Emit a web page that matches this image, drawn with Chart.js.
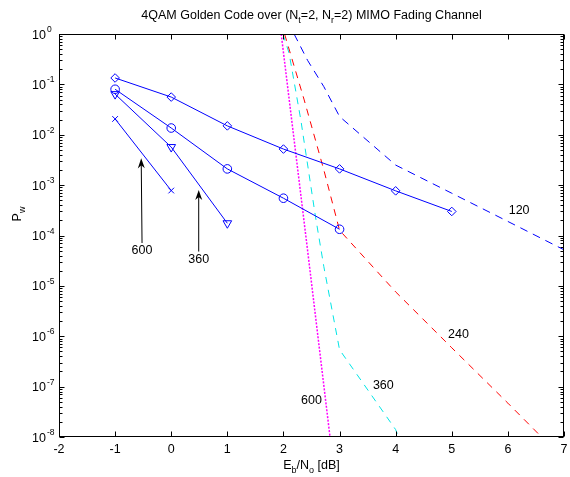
<!DOCTYPE html>
<html>
<head>
<meta charset="utf-8">
<script src="https://cdn.jsdelivr.net/npm/chart.js@4"></script>
<style>
    html, body { margin: 0; padding: 0; background: #fff; }
    #wrap { width: 570px; height: 477px; position: relative; }
</style>
</head>
<body>
<div id="wrap"><canvas id="myChart"></canvas></div>
<script>
(function () {
    "use strict";

    // simulated word error rate (solid blue, markers) per frame length
    const snr120 = [-1, 0, 1, 2, 3, 4, 5];
    const pw120 = [0.134, 0.056, 0.015, 0.0052, 0.0021, 7.7e-4, 3.0e-4];
    const snr240 = [-1, 0, 1, 2, 3];
    const pw240 = [0.08, 0.0136, 0.0021, 5.5e-4, 1.33e-4];
    const snr360 = [-1, 0, 1];
    const pw360 = [0.064, 0.0057, 1.75e-4];
    const snr600 = [-1, 0];
    const pw600 = [0.0206, 7.8e-4];

    // bounds (dashed / dotted curves)
    const bound120X = [2.19, 2.43, 2.72, 3.0, 4.0, 5.0, 6.0, 7.0];
    const bound120Y = [1.0, 0.30, 0.09, 0.023, 0.0025, 6.9e-4, 1.9e-4, 5.2e-5];
    const bound240X = [2.02, 2.37, 2.72, 3.0, 4.0, 5.0, 6.0, 6.6];
    const bound240Y = [1.0, 0.049, 0.002, 1.27e-4, 7.6e-6, 5.9e-7, 4.7e-8, 1e-8];
    const bound360X = [1.99, 2.1, 2.31, 2.57, 2.72, 3.0, 4.0, 4.05];
    const bound360Y = [1.0, 0.42, 0.0196, 2.4e-4, 2.4e-5, 5.4e-7, 1.4e-8, 1e-8];
    const bound600X = [1.96, 2.43, 2.83];
    const bound600Y = [1.0, 5.1e-5, 1e-8];

    // axis ticks
    const xTicks = [-2, -1, 0, 1, 2, 3, 4, 5, 6, 7];
    const yDecades = [0, -1, -2, -3, -4, -5, -6, -7, -8];

    // text on the curves, in data coordinates
    const curveLabels = ['120', '240', '360', '600'];
    const curveLabelX = [6.2, 5.12, 3.78, 2.5];
    const curveLabelY = [3.2e-4, 1.07e-6, 1.04e-7, 5.2e-8];

    // arrows pointing at the simulated curves
    const arrowLabels = ['600', '360'];
    const arrowTailX = [-0.52, 0.49];
    const arrowTailY = [7.1e-5, 4.8e-5];
    const arrowHeadX = [-0.535, 0.49];
    const arrowHeadY = [3.4e-3, 8.0e-4];

    const FONT = '"Liberation Sans", Arial, Helvetica, sans-serif';

    function toPoints(xs, ys) {
        return xs.map(function (x, i) { return { x: x, y: ys[i] }; });
    }

    function solid(data, style, radius, rotation) {
        return {
            data: data,
            borderColor: '#0000ff',
            borderWidth: 1,
            pointStyle: style,
            pointRadius: radius,
            pointRotation: rotation || 0,
            pointBorderColor: '#0000ff',
            pointBorderWidth: 1,
            pointBackgroundColor: 'rgba(0,0,0,0)',
            tension: 0,
            fill: false
        };
    }

    function bound(data, color, dash, width) {
        return {
            data: data,
            borderColor: color,
            borderWidth: width,
            borderDash: dash,
            pointRadius: 0,
            tension: 0,
            fill: false
        };
    }

    // text with sub/superscripts: parts = [[text, mode]], mode 0 normal, 1 sub, 2 sup
    function drawRich(ctx, parts, x, y, align, size) {
        const small = Math.round(size * 0.72);
        const widths = parts.map(function (p) {
            ctx.font = (p[1] ? small : size) + 'px ' + FONT;
            return ctx.measureText(p[0]).width;
        });
        const total = widths.reduce(function (s, w) { return s + w; }, 0);
        let cx = align === 'center' ? x - total / 2 : (align === 'right' ? x - total : x);
        ctx.textAlign = 'left';
        ctx.textBaseline = 'alphabetic';
        parts.forEach(function (p, i) {
            ctx.font = (p[1] ? small : size) + 'px ' + FONT;
            const dy = p[1] === 1 ? 4 : (p[1] === 2 ? -6 : 0);
            ctx.fillText(p[0], cx, y + dy);
            cx += widths[i];
        });
    }

    const axesDecor = {
        id: 'axesDecor',
        afterDraw: function (chart) {
            const ctx = chart.ctx;
            const a = chart.chartArea;
            const xs = chart.scales.x;
            const ys = chart.scales.y;
            const L = Math.round(a.left) + 0.5, R = Math.round(a.right) - 0.5;
            const T = Math.round(a.top) + 0.5, B = Math.round(a.bottom) - 0.5;
            ctx.save();
            ctx.fillStyle = '#000';
            ctx.strokeStyle = '#000';
            ctx.lineWidth = 1;
            ctx.strokeRect(L, T, R - L, B - T);

            // x ticks, inside, top and bottom
            ctx.beginPath();
            xTicks.forEach(function (v) {
                const px = Math.round(xs.getPixelForValue(v)) + 0.5;
                ctx.moveTo(px, B); ctx.lineTo(px, B - 5);
                ctx.moveTo(px, T); ctx.lineTo(px, T + 5);
            });
            // y major and minor ticks
            yDecades.forEach(function (d) {
                const py = Math.round(ys.getPixelForValue(Math.pow(10, d))) + 0.5;
                ctx.moveTo(L, py); ctx.lineTo(L + 5, py);
                ctx.moveTo(R, py); ctx.lineTo(R - 5, py);
                if (d < 0) {
                    for (let m = 2; m <= 9; m++) {
                        const pm = Math.round(ys.getPixelForValue(m * Math.pow(10, d))) + 0.5;
                        ctx.moveTo(L, pm); ctx.lineTo(L + 3, pm);
                        ctx.moveTo(R, pm); ctx.lineTo(R - 3, pm);
                    }
                }
            });
            ctx.stroke();

            // tick labels
            ctx.font = '12.5px ' + FONT;
            ctx.textAlign = 'center';
            ctx.textBaseline = 'alphabetic';
            xTicks.forEach(function (v) {
                ctx.fillText(String(v), xs.getPixelForValue(v), 453);
            });
            yDecades.forEach(function (d) {
                const py = ys.getPixelForValue(Math.pow(10, d));
                ctx.font = '12.5px ' + FONT;
                ctx.textAlign = 'right';
                ctx.fillText('10', 46, py + 4.5);
                ctx.font = '8.5px ' + FONT;
                ctx.textAlign = 'left';
                ctx.fillText(String(d), 47, py - 2);
            });

            // title and axis labels
            drawRich(ctx, [['4QAM Golden Code over (N', 0], ['t', 1], ['=2, N', 0], ['r', 1],
                ['=2) MIMO Fading Channel', 0]], (a.left + a.right) / 2, 19, 'center', 12.5);
            drawRich(ctx, [['E', 0], ['b', 1], ['/N', 0], ['o', 1], [' [dB]', 0]],
                (a.left + a.right) / 2, 469, 'center', 12.5);
            ctx.save();
            ctx.translate(21, 214);
            ctx.rotate(-Math.PI / 2);
            drawRich(ctx, [['P', 0], ['w', 1]], 0, 0, 'center', 12.5);
            ctx.restore();

            // curve labels
            ctx.font = '12.5px ' + FONT;
            ctx.textAlign = 'center';
            ctx.textBaseline = 'middle';
            curveLabels.forEach(function (t, i) {
                ctx.fillText(t, xs.getPixelForValue(curveLabelX[i]), ys.getPixelForValue(curveLabelY[i]));
            });

            // arrows with labels under the tail
            arrowLabels.forEach(function (t, i) {
                const x0 = xs.getPixelForValue(arrowTailX[i]), y0 = ys.getPixelForValue(arrowTailY[i]);
                const x1 = xs.getPixelForValue(arrowHeadX[i]), y1 = ys.getPixelForValue(arrowHeadY[i]);
                const len = Math.hypot(x1 - x0, y1 - y0);
                const ux = (x1 - x0) / len, uy = (y1 - y0) / len;
                const hl = 10, hw = 3.5;
                ctx.beginPath();
                ctx.moveTo(x0, y0);
                ctx.lineTo(x1 - ux * hl * 0.6, y1 - uy * hl * 0.6);
                ctx.stroke();
                ctx.beginPath();
                ctx.moveTo(x1, y1);
                ctx.lineTo(x1 - ux * hl - uy * hw, y1 - uy * hl + ux * hw);
                ctx.lineTo(x1 - ux * hl * 0.7, y1 - uy * hl * 0.7);
                ctx.lineTo(x1 - ux * hl + uy * hw, y1 - uy * hl - ux * hw);
                ctx.closePath();
                ctx.fill();
                ctx.fillText(t, x0, y0 + 8);
            });
            ctx.restore();
        }
    };

    const ctx = document.getElementById('myChart').getContext('2d');
    new Chart(ctx, {
        type: 'line',
        data: {
            datasets: [
                solid(toPoints(snr120, pw120), 'rectRot', 4.3),
                solid(toPoints(snr240, pw240), 'circle', 4.3),
                solid(toPoints(snr360, pw360), 'triangle', 5, 180),
                solid(toPoints(snr600, pw600), 'crossRot', 4),
                bound(toPoints(bound120X, bound120Y), '#0000ff', [8, 6], 1),
                bound(toPoints(bound240X, bound240Y), '#ff0000', [7, 6], 1),
                bound(toPoints(bound360X, bound360Y), '#00e5e5', [7, 6], 1),
                bound(toPoints(bound600X, bound600Y), '#ff00ff', [2, 1.5], 1.5)
            ]
        },
        options: {
            responsive: true,
            maintainAspectRatio: false,
            animation: false,
            events: [],
            layout: { padding: { left: 59, right: 1, top: 34, bottom: 40 } },
            plugins: {
                legend: { display: false },
                title: { display: false },
                tooltip: { enabled: false }
            },
            scales: {
                x: { type: 'linear', min: -2, max: 7, display: false },
                y: { type: 'logarithmic', min: 1e-8, max: 1, display: false }
            }
        },
        plugins: [axesDecor]
    });
})();
</script>
</body>
</html>
